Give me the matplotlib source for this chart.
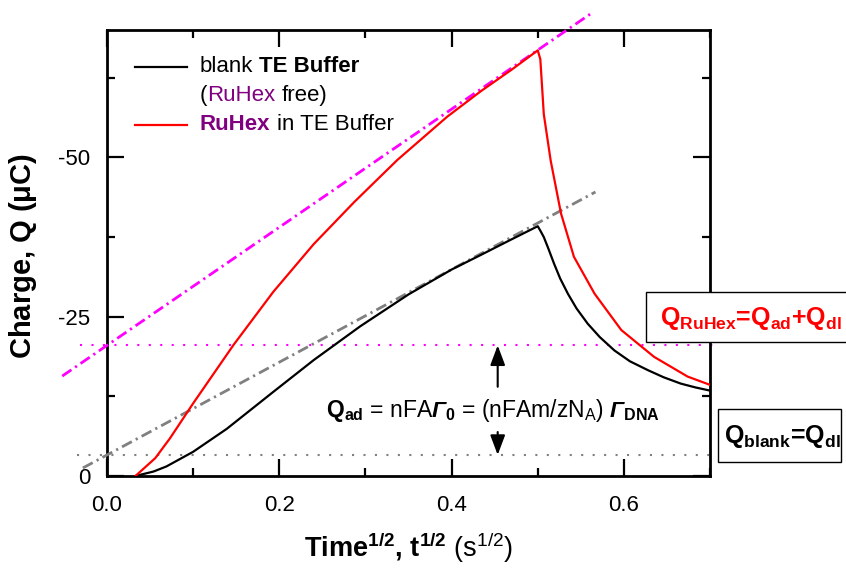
import matplotlib
matplotlib.use("Agg")
import matplotlib.pyplot as plt
from matplotlib.lines import Line2D
from matplotlib.patches import Rectangle
from matplotlib.ticker import MultipleLocator

plt.rcParams['font.family'] = 'Liberation Sans'
plt.rcParams['mathtext.fontset'] = 'custom'
plt.rcParams['mathtext.rm'] = 'Liberation Sans'
plt.rcParams['mathtext.it'] = 'Liberation Sans:italic'
plt.rcParams['mathtext.bf'] = 'Liberation Sans:bold'
plt.rcParams['mathtext.bfit'] = 'Liberation Sans:italic:bold'
plt.rcParams['axes.unicode_minus'] = False

# blank TE buffer, charge vs t^1/2
t_blank = [0.033, 0.054, 0.069, 0.100, 0.139, 0.193, 0.240, 0.294, 0.350, 0.400,
           0.434, 0.469, 0.500, 0.503, 0.507, 0.512, 0.519, 0.526, 0.535, 0.545,
           0.558, 0.572, 0.589, 0.607, 0.628, 0.646, 0.666, 0.683, 0.700]
q_blank = [0.0, -0.7, -1.5, -3.8, -7.4, -13.2, -18.2, -23.5, -28.5, -32.4,
           -34.7, -37.1, -39.2, -38.5, -37.5, -35.8, -33.3, -31.0, -28.6, -26.3,
           -23.9, -21.8, -19.7, -18.0, -16.6, -15.5, -14.5, -13.9, -13.4]

# RuHex in TE buffer
t_ruhex = [0.033, 0.056, 0.073, 0.100, 0.147, 0.193, 0.240, 0.287, 0.337,
           0.395, 0.434, 0.470, 0.500, 0.503, 0.507, 0.515, 0.527, 0.542, 0.566,
           0.597, 0.635, 0.674, 0.700]
q_ruhex = [0.0, -2.8, -5.9, -11.4, -20.6, -28.9, -36.4, -43.0, -49.6,
           -56.4, -60.4, -63.8, -66.8, -65.4, -56.8, -49.5, -41.2, -34.4, -28.6,
           -22.9, -18.7, -15.6, -14.3]

# linear fits extrapolated to t = 0
fit_ruhex_t = [-0.052, 0.562]
fit_blank_t = [-0.028, 0.567]
q_ruhex_0 = -20.5
slope_ruhex = -92.7
q_blank_0 = -3.3
slope_blank = -72.8

fig = plt.figure(figsize=(8.46, 5.71), dpi=100)
ax = fig.add_axes([0.1265, 0.1664, 0.7128, 0.7811])

ax.plot(t_blank, q_blank, color='black', lw=1.6, zorder=4)
ax.plot(t_ruhex, q_ruhex, color='red', lw=1.6, zorder=4)

ax.plot(fit_ruhex_t, [q_ruhex_0 + slope_ruhex * t for t in fit_ruhex_t],
        color='magenta', lw=2, dashes=(4, 1.6, 0.8, 1.6), clip_on=False, zorder=3)
ax.plot(fit_blank_t, [q_blank_0 + slope_blank * t for t in fit_blank_t],
        color='gray', lw=2, dashes=(4, 1.6, 0.8, 1.6), clip_on=False, zorder=3)

# intercept levels
ax.plot([-0.031, 0.71], [q_ruhex_0, q_ruhex_0], color='magenta', lw=1.5,
        dashes=(1, 4.5), clip_on=False, zorder=2)
ax.plot([-0.035, 0.707], [q_blank_0, q_blank_0], color='gray', lw=1.5,
        dashes=(1, 4.5), clip_on=False, zorder=2)

arrow = dict(arrowstyle='-|>,head_length=0.8,head_width=0.3', mutation_scale=15,
             lw=1.5, color='black', shrinkA=0, shrinkB=0)
ax.annotate('', xy=(0.4535, q_ruhex_0), xytext=(0.4535, -14.0), arrowprops=arrow)
ax.annotate('', xy=(0.4535, q_blank_0), xytext=(0.4535, -6.9), arrowprops=arrow)

ax.text(0.448, -10.3,
        r"$\mathbf{Q}_{\mathbf{ad}}$ = nFA$\mathbfit{\Gamma}_{\mathbf{0}}$ = (nFAm/zN$_{\mathrm{A}}$) "
        r"$\mathbfit{\Gamma}_{\mathbf{DNA}}$",
        ha='center', va='center', fontsize=16.5)

ax.set_xlim(0, 0.7)
ax.set_ylim(0, -70)
ax.xaxis.set_major_locator(MultipleLocator(0.2))
ax.xaxis.set_minor_locator(MultipleLocator(0.1))
ax.yaxis.set_major_locator(MultipleLocator(25))
ax.yaxis.set_minor_locator(MultipleLocator(12.5))
ax.xaxis.set_major_formatter(lambda v, p: f"{v:.1f}")
ax.yaxis.set_major_formatter(lambda v, p: f"{v:.0f}")
ax.tick_params(which='both', direction='in', top=True, right=True, width=1.6,
               labelsize=16)
ax.tick_params(which='major', length=12)
ax.tick_params(which='minor', length=6)
ax.tick_params(axis='x', pad=14)
ax.tick_params(axis='y', pad=12)
for s in ax.spines.values():
    s.set_linewidth(2.0)

ax.set_xlabel(r"Time$^{\mathbf{1/2}}$, t$^{\mathbf{1/2}}$ $\mathrm{(s^{1/2})}$",
              fontsize=19.5, fontweight='bold')
ax.xaxis.set_label_coords(0.5, -0.123)
ax.set_ylabel(r"Charge, Q ($\mathbf{\mu}$C)", fontsize=21, fontweight='bold')
ax.yaxis.set_label_coords(-0.112, 0.493)

# legend
ax.add_line(Line2D([0.046, 0.133], [0.918, 0.918], color='black', lw=1.6,
                   transform=ax.transAxes))
ax.add_line(Line2D([0.046, 0.133], [0.787, 0.787], color='red', lw=1.6,
                   transform=ax.transAxes))

purple = '#800080'
fs_leg = 16
sp = 0.278 * fs_leg


def chain(pieces, x, y):
    prev = None
    for txt, color, weight, gap in pieces:
        if prev is None:
            prev = ax.text(x, y, txt, color=color, fontweight=weight, fontsize=fs_leg,
                           va='center', transform=ax.transAxes)
        else:
            prev = ax.annotate(txt, xy=(1, 0), xycoords=prev, xytext=(gap, 0),
                               textcoords='offset points', va='bottom',
                               color=color, fontweight=weight, fontsize=fs_leg)


chain([("blank", 'black', 'normal', 0), ("TE Buffer", 'black', 'bold', sp)], 0.154, 0.918)
chain([("(", 'black', 'normal', 0), ("RuHex", purple, 'normal', 0),
       ("free)", 'black', 'normal', sp)], 0.154, 0.852)
chain([("RuHex", purple, 'bold', 0), ("in TE Buffer", 'black', 'normal', sp)], 0.154, 0.787)

# boxed relations on the right
fig.add_artist(Rectangle((0.7636, 0.401), 0.241, 0.0876, transform=fig.transFigure,
                         fc='white', ec='black', lw=1.0, zorder=5))
fig.add_artist(Rectangle((0.8487, 0.1909), 0.1454, 0.0928, transform=fig.transFigure,
                         fc='white', ec='black', lw=1.0, zorder=5))
fig.text(751 / 846, 1 - 318 / 571,
         r"Q$_{\mathbf{RuHex}}$=Q$_{\mathbf{ad}}$+Q$_{\mathbf{dl}}$",
         color='red', fontweight='bold', fontsize=18, ha='center', va='center', zorder=6)
fig.text(782 / 846, 1 - 436 / 571,
         r"Q$_{\mathbf{blank}}$=Q$_{\mathbf{dl}}$",
         color='black', fontweight='bold', fontsize=18, ha='center', va='center', zorder=6)

fig.savefig("out.png", dpi=100)
